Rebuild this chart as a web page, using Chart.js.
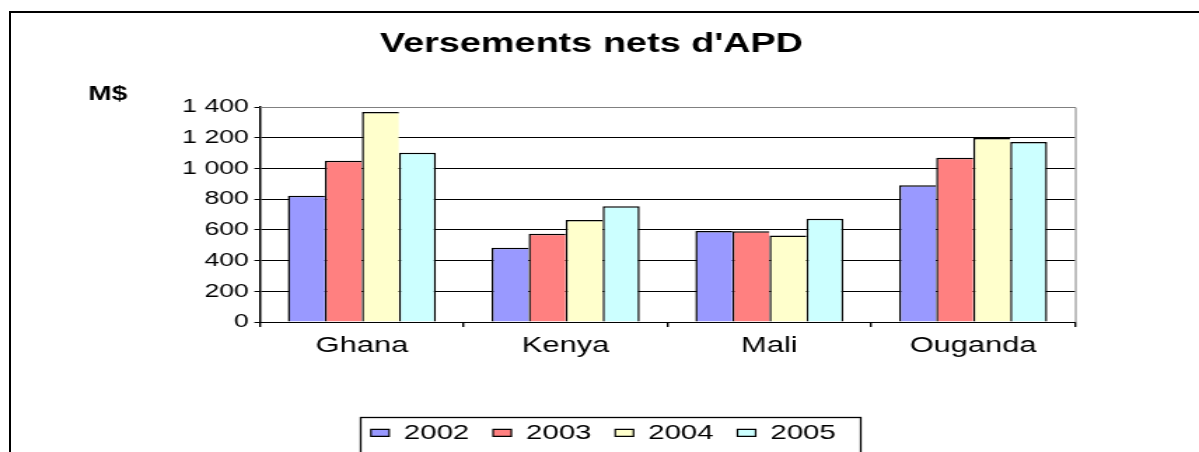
<!DOCTYPE html>
<html>
<head>
<meta charset="utf-8">
<title>Versements nets d'APD</title>
<script src="https://cdn.jsdelivr.net/npm/chart.js@4/dist/chart.umd.min.js"></script>
<style>
  html, body { margin: 0; padding: 0; overflow: hidden; background: #fff; }
  body { width: 1199px; height: 452px; position: relative; }
  /* the original picture is stretched sideways, so the chart is drawn narrow and widened */
  #wrap { position: absolute; left: 0; top: 0; width: 856px; height: 460px;
          transform: scaleX(1.4007); transform-origin: 0 0; }
  #frame { position: absolute; left: 9px; top: 11px; width: 1400px; height: 600px;
           border-left: 2px solid #000; border-top: 2px solid #000; }
</style>
</head>
<body>
<div id="frame"></div>
<div id="wrap"><canvas id="chart" width="856" height="460"></canvas></div>
<script>
var categories = ['Ghana', 'Kenya', 'Mali', 'Ouganda'];
var years = ['2002', '2003', '2004', '2005'];

// M$
var v2002 = [822, 484, 593, 890];
var v2003 = [1050, 575, 591, 1070];
var v2004 = [1367, 664, 564, 1198];
var v2005 = [1102, 753, 673, 1172];

var yTickLabels = ['0', '200', '400', '600', '800', '1 000', '1 200', '1 400'];

var barColors = ['#9999FF', '#FF8080', '#FFFFCC', '#CCFFFF'];
var series = [v2002, v2003, v2004, v2005];

Chart.defaults.font.family = "'Liberation Sans', Arial, sans-serif";
Chart.defaults.color = '#000';

var legendPad = 17;

//
// Title, unit label, grey plot frame and the box round the legend
//
var decorations = {
  id: 'decorations',
  afterDraw: function (chart) {
    var ctx = chart.ctx;
    var area = chart.chartArea;
    var lg = chart.legend;

    ctx.save();

    ctx.strokeStyle = '#808080';
    ctx.lineWidth = 1;
    ctx.beginPath();
    ctx.moveTo(area.left, Math.round(area.top) + 0.5);
    ctx.lineTo(area.right + 0.5, Math.round(area.top) + 0.5);
    ctx.lineTo(area.right + 0.5, area.bottom);
    ctx.stroke();

    // legend items are centred in the legend box, same maths as Chart.js
    var x0 = (lg.left + legendPad + lg.right - lg.lineWidths[0]) / 2;
    var x1 = x0 + lg.lineWidths[0] - legendPad;
    ctx.strokeStyle = '#000';
    ctx.lineWidth = 1.3;
    ctx.strokeRect(Math.round(x0 - 8) + 0.5, 417.5, Math.round(x1 - x0 + 25), 60);

    ctx.fillStyle = '#000';
    ctx.textBaseline = 'alphabetic';
    ctx.textAlign = 'center';
    ctx.font = "bold 27px 'Liberation Sans', Arial, sans-serif";
    ctx.fillText("Versements nets d'APD", 422.3, 51.7);

    ctx.textAlign = 'left';
    ctx.font = "bold 20px 'Liberation Sans', Arial, sans-serif";
    ctx.fillText('M$', 63, 100);

    ctx.restore();
  }
};

var datasets = years.map(function (year, i) {
  return {
    label: year,
    data: series[i],
    backgroundColor: barColors[i],
    borderColor: '#000',
    // neighbouring bars share one edge line
    borderWidth: { top: 1.5, left: 1.5, right: i === years.length - 1 ? 1.5 : 0, bottom: 0 },
    inflateAmount: 0,
    categoryPercentage: 0.727,
    barPercentage: 1.0
  };
});

new Chart(document.getElementById('chart'), {
  type: 'bar',
  data: { labels: categories, datasets: datasets },
  options: {
    responsive: false,
    animation: false,
    layout: { padding: { left: 94, right: 88.5, top: 107, bottom: 6.7 } },
    scales: {
      x: {
        grid: { offset: true, drawOnChartArea: false, drawTicks: true, tickLength: 5, color: '#000', lineWidth: 1.4 },
        border: { color: '#000', width: 1 },
        ticks: { font: { size: 22 }, color: '#000', padding: 6, maxRotation: 0, autoSkip: false },
        afterFit: function (scale) { scale.height = 83.3; }
      },
      y: {
        min: 0,
        max: 1400,
        ticks: {
          stepSize: 200,
          font: { size: 19 },
          color: '#000',
          padding: 4,
          callback: function (value, index) { return yTickLabels[index]; }
        },
        grid: {
          color: function (c) { return c.tick && c.tick.value === 1400 ? '#808080' : '#000'; },
          tickColor: '#000',
          tickLength: 4
        },
        border: { color: '#000', width: 1.5 },
        afterFit: function (scale) { scale.width = 91.6; }
      }
    },
    plugins: {
      title: { display: false },
      tooltip: { enabled: false },
      legend: {
        position: 'bottom',
        labels: {
          boxWidth: 13,
          boxHeight: 7,
          padding: legendPad,
          font: { size: 21 },
          color: '#000',
          generateLabels: function (chart) {
            return Chart.defaults.plugins.legend.labels.generateLabels(chart).map(function (item) {
              item.lineWidth = 1.2;
              return item;
            });
          }
        }
      }
    }
  },
  plugins: [decorations]
});
</script>
</body>
</html>
